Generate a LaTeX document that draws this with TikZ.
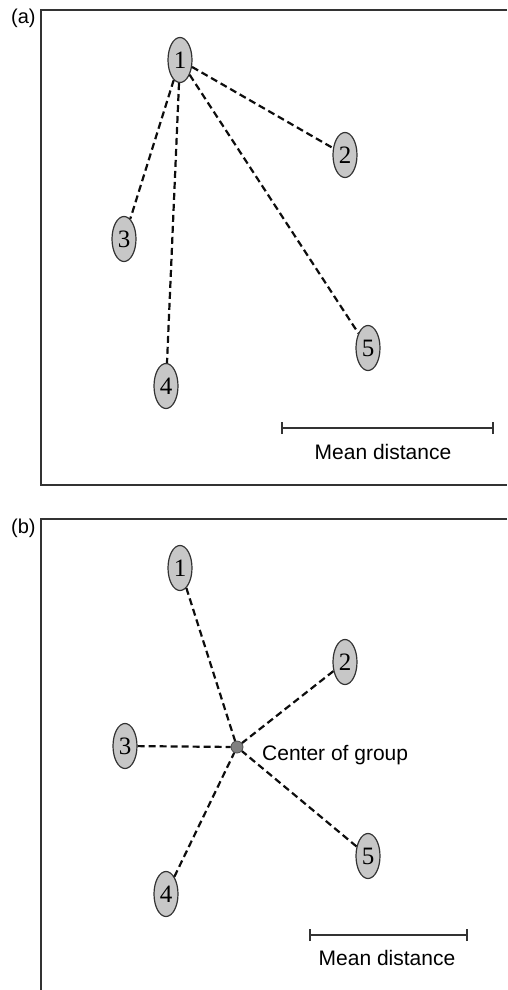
\documentclass[tikz,border=0pt]{standalone}
\usepackage{fontspec}
\setmainfont{Liberation Sans}
\newfontfamily\digitfont{Liberation Serif}
\usetikzlibrary{shapes.geometric}
\begin{document}
\begin{tikzpicture}[x=1pt,y=-1pt,
  member/.style={ellipse, draw=black!80, line width=1.2pt, fill=black!22,
    minimum width=24pt, minimum height=45pt, inner sep=0pt,
    font=\digitfont\fontsize{25}{25}\selectfont},
  link/.style={draw=black!95, line width=2.2pt, dash pattern=on 7pt off 4pt},
  framepath/.style={draw=black!80, line width=1.8pt},
  barpath/.style={draw=black!80, line width=1.6pt},
  lbl/.style={font=\fontsize{21}{21}\selectfont, inner sep=0pt},
  panel/.style={font=\fontsize{20}{20}\selectfont, inner sep=0pt, anchor=base west}]
\useasboundingbox (0,0) rectangle (507,990);

% ---------- panel (a) ----------
\node[panel] (la) at (11,24) {(a)};
\draw[framepath] (507,10) -- (41,10) -- (41,485) -- (507,485);

\node[member] (a1) at (180,60) {1};
\node[member] (a2) at (345,155) {2};
\node[member] (a3) at (124,239) {3};
\node[member] (a4) at (166,386) {4};
\node[member] (a5) at (368,348) {5};

\draw[link] (a1) -- (a2);
\draw[link] (a1) -- (a3);
\draw[link] (a1) -- (a4);
\draw[link] (a1) -- (a5);

\coordinate (ma1) at (282,428);
\coordinate (ma2) at (493,428);
\draw[barpath] (ma1) -- (ma2);
\draw[barpath] ([yshift=-6pt]ma1) -- ([yshift=6pt]ma1);
\draw[barpath] ([yshift=-6pt]ma2) -- ([yshift=6pt]ma2);
\node[lbl, anchor=base] (mta) at (383,459) {Mean distance};

% ---------- panel (b) ----------
\node[panel] (lb) at (11,533) {(b)};
\draw[framepath] (507,519) -- (41,519) -- (41,990);

\node[member] (b1) at (180,568) {1};
\node[member] (b2) at (345,662) {2};
\node[member] (b3) at (125,746) {3};
\node[member] (b4) at (166,894) {4};
\node[member] (b5) at (368,856) {5};
\node[circle, draw=black!70, line width=0.8pt, fill=black!50, minimum size=12pt, inner sep=0pt] (c) at (237,747) {};
\node[lbl, anchor=base west] (ct) at (262,760) {Center of group};

\draw[link] (b1) -- (c);
\draw[link] (b2) -- (c);
\draw[link] (b3) -- (c);
\draw[link] (b4) -- (c);
\draw[link] (b5) -- (c);

\coordinate (mb1) at (310,935);
\coordinate (mb2) at (467,935);
\draw[barpath] (mb1) -- (mb2);
\draw[barpath] ([yshift=-6pt]mb1) -- ([yshift=6pt]mb1);
\draw[barpath] ([yshift=-6pt]mb2) -- ([yshift=6pt]mb2);
\node[lbl, anchor=base] (mtb) at (387,965) {Mean distance};
\end{tikzpicture}
\end{document}
